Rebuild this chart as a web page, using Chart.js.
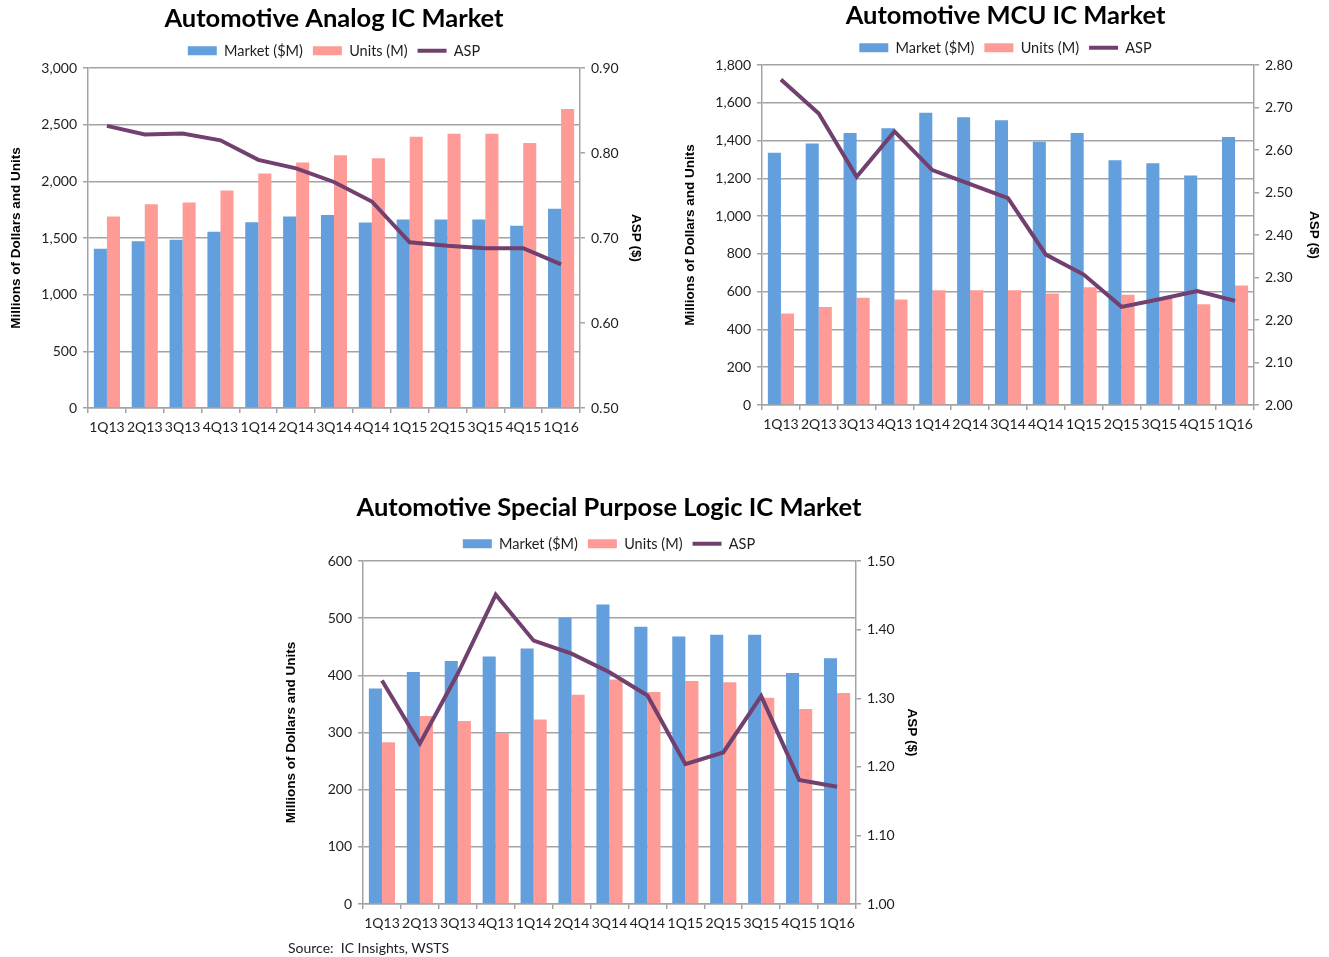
<!DOCTYPE html>
<html>
<head>
<meta charset="utf-8">
<script src="https://cdn.jsdelivr.net/npm/chart.js@4.4.1/dist/chart.umd.min.js"></script>
<style>
  html, body { margin: 0; padding: 0; background: #fff; overflow: hidden; }
  body { width: 1329px; height: 957px; position: relative; }
  canvas { position: absolute; }
  #source { position: absolute; left: 288px; top: 939px; font-family: Lato, sans-serif; font-size: 14px; color: #222; white-space: pre; }
</style>
</head>
<body>
<canvas id="analog" width="660" height="445" style="left:0px; top:0px;"></canvas>
<canvas id="mcu" width="655" height="445" style="left:674px; top:-3px;"></canvas>
<canvas id="logic" width="660" height="452" style="left:275px; top:489px;"></canvas>
<div id="source">Source:  IC Insights, WSTS</div>
<script>
// Quarterly categories shared by all three charts
const quarters = ['1Q13', '2Q13', '3Q13', '4Q13', '1Q14', '2Q14', '3Q14', '4Q14', '1Q15', '2Q15', '3Q15', '4Q15', '1Q16'];

// Automotive analog ICs
const analogMarket = [1405, 1472, 1485, 1556, 1639, 1691, 1703, 1638, 1663, 1663, 1663, 1609, 1758];
const analogUnits  = [1691, 1799, 1813, 1920, 2069, 2166, 2231, 2204, 2395, 2420, 2420, 2339, 2638];
const analogAsp    = [0.832, 0.822, 0.823, 0.815, 0.792, 0.782, 0.766, 0.743, 0.695, 0.691, 0.688, 0.688, 0.669];

// Automotive MCUs
const mcuMarket = [1336, 1385, 1441, 1466, 1547, 1524, 1508, 1394, 1441, 1296, 1280, 1215, 1419];
const mcuUnits  = [485, 519, 568, 559, 608, 608, 608, 591, 624, 584, 572, 534, 633];
const mcuAsp    = [2.766, 2.686, 2.537, 2.644, 2.553, 2.520, 2.487, 2.354, 2.307, 2.231, 2.249, 2.268, 2.245];

// Automotive special purpose logic
const logicMarket = [377, 406, 425, 433, 447, 501, 524, 485, 468, 471, 471, 404, 430];
const logicUnits  = [283, 329, 320, 299, 323, 366, 393, 371, 390, 388, 361, 341, 369];
const logicAsp    = [1.326, 1.234, 1.336, 1.451, 1.384, 1.365, 1.338, 1.304, 1.204, 1.221, 1.303, 1.181, 1.171];

// Axis ranges: [min, max, step]
const analogLeftRange  = [0, 3000, 500];
const analogRightRange = [0.5, 0.9, 0.1];
const mcuLeftRange     = [0, 1800, 200];
const mcuRightRange    = [2.0, 2.8, 0.1];
const logicLeftRange   = [0, 600, 100];
const logicRightRange  = [1.0, 1.5, 0.1];

const BLUE = '#629fdc';
const PINK = '#ff9b96';
const PURPLE = '#71406f';
const GRID = '#a3a3a3';
const TEXT = '#1e1e1e';
const tickFont = { family: 'Lato', size: 14 };
const axisTitleFont = { family: 'Liberation Sans', weight: 'bold', size: 13.5 };

function buildChart(id, spec) {
  const [lMin, lMax, lStep] = spec.leftRange;
  const [rMin, rMax, rStep] = spec.rightRange;
  return new Chart(document.getElementById(id), {
    type: 'bar',
    data: {
      labels: quarters,
      datasets: [
        { label: 'Market ($M)', data: spec.market, backgroundColor: BLUE, yAxisID: 'y', order: 1, pointStyle: 'rect' },
        { label: 'Units (M)', data: spec.units, backgroundColor: PINK, yAxisID: 'y', order: 1, pointStyle: 'rect' },
        { type: 'line', label: 'ASP', data: spec.asp, borderColor: PURPLE, backgroundColor: PURPLE,
          borderWidth: 4, pointRadius: 0, tension: 0, yAxisID: 'y1', order: 0, pointStyle: 'line' }
      ]
    },
    options: {
      responsive: false,
      animation: false,
      devicePixelRatio: 1,
      datasets: { bar: { barPercentage: 1.0, categoryPercentage: 0.69 } },
      layout: { padding: { left: 8, right: 0, top: 0, bottom: 5 } },
      plugins: {
        title: {
          display: true, text: spec.title, color: '#000',
          font: { family: 'Lato', weight: 'bold', size: 25.5 },
          padding: { top: spec.titleTop, bottom: spec.titleBottom }
        },
        legend: {
          labels: {
            usePointStyle: true, pointStyleWidth: 29, boxHeight: 9, padding: 10,
            color: TEXT, font: { family: 'Lato', size: 14.5 },
            sort: (a, b) => a.datasetIndex - b.datasetIndex
          }
        },
        tooltip: { enabled: false }
      },
      scales: {
        x: {
          grid: { drawOnChartArea: false, drawTicks: true, tickLength: 5, color: GRID, lineWidth: 1.5, offset: true },
          border: { color: GRID, width: 1.5 },
          ticks: { padding: 6, color: TEXT, font: tickFont, maxRotation: 0, autoSkip: false },
          afterFit(s) { s.height = 32; }
        },
        y: {
          position: 'left', min: lMin, max: lMax,
          ticks: { stepSize: lStep, padding: 6, color: TEXT, font: tickFont,
                   callback: v => v.toLocaleString('en-US') },
          grid: { color: GRID, lineWidth: 1.5, tickLength: 5 },
          border: { color: GRID, width: 1.5 },
          title: { display: true, text: 'Millions of Dollars and Units', color: '#000', font: axisTitleFont, padding: { top: 0, bottom: 0 } },
          afterFit(s) { s.width = 80; }
        },
        y1: {
          position: 'right', min: rMin, max: rMax,
          ticks: { stepSize: rStep, padding: 6, color: TEXT, font: tickFont,
                   callback: v => v.toFixed(2) },
          grid: { drawOnChartArea: false, color: GRID, lineWidth: 1.5, tickLength: 5 },
          border: { color: GRID, width: 1.5 },
          title: { display: true, text: 'ASP ($)', color: '#000', font: axisTitleFont, padding: { top: spec.rightTitlePad, bottom: 0 } },
          afterFit(s) { s.width = spec.rightWidth; }
        }
      }
    }
  });
}

buildChart('analog', {
  title: 'Automotive Analog IC Market',
  market: analogMarket, units: analogUnits, asp: analogAsp,
  leftRange: analogLeftRange, rightRange: analogRightRange,
  titleTop: 3, titleBottom: 0, rightWidth: 80, rightTitlePad: 16
});

buildChart('mcu', {
  title: 'Automotive MCU IC Market',
  market: mcuMarket, units: mcuUnits, asp: mcuAsp,
  leftRange: mcuLeftRange, rightRange: mcuRightRange,
  titleTop: 3, titleBottom: 0, rightWidth: 75, rightTitlePad: 7
});

buildChart('logic', {
  title: 'Automotive Special Purpose Logic IC Market',
  market: logicMarket, units: logicUnits, asp: logicAsp,
  leftRange: logicLeftRange, rightRange: logicRightRange,
  titleTop: 3, titleBottom: 4, rightWidth: 79, rightTitlePad: 15
});
</script>
</body>
</html>
